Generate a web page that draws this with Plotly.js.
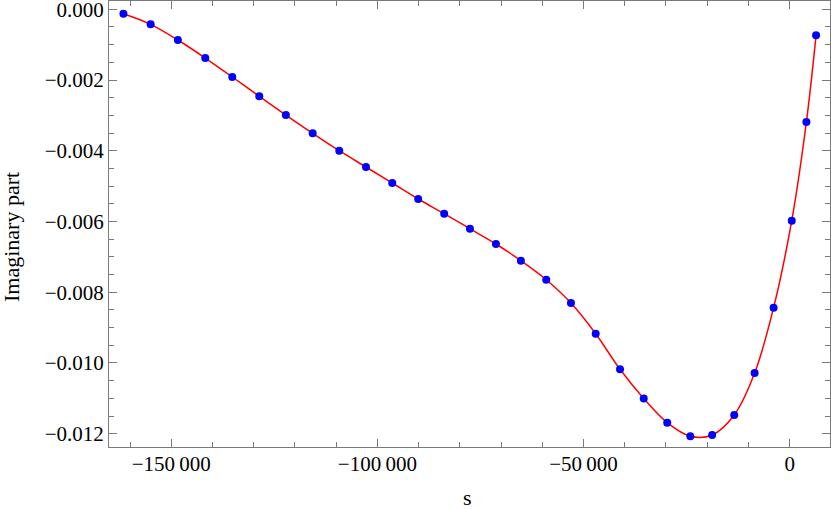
<!DOCTYPE html>
<html>
<head>
<meta charset="utf-8">
<script src="https://cdn.plot.ly/plotly-3.0.1.min.js"></script>
<style>
html,body{margin:0;padding:0;background:#fff;font-family:'Liberation Serif',serif;}
</style>
</head>
<body>
<div id="chart" style="width:831px;height:509px;"></div>
<script>
const sValues = [-161600, -155000, -148400, -141750, -135200, -128650, -122200, -115700, -109250, -102770,
  -96400, -90100, -83800, -77550, -71250, -65200, -59050, -53050, -47050, -41150,
  -35400, -29700, -24100, -18800, -13450, -8500, -3900, 500, 4050, 6400];
const imagValues = [-0.000124, -0.000424, -0.000868, -0.001377, -0.001914, -0.00246, -0.002989, -0.003506, -0.003998, -0.004459,
  -0.004911, -0.005364, -0.005779, -0.006204, -0.006636, -0.007108, -0.007646, -0.008304, -0.009172, -0.010179,
  -0.011005, -0.011689, -0.012073, -0.012037, -0.011471, -0.010284, -0.008437, -0.005977, -0.003187, -0.000735];
const xTickVals = [-150000, -100000, -50000, 0];
const xTickText = ["\u2212150\u2009000", "\u2212100\u2009000", "\u221250\u2009000", "0"];
const yTickVals = [0, -0.002, -0.004, -0.006, -0.008, -0.010, -0.012];
const yTickText = ["0.000", "\u22120.002", "\u22120.004", "\u22120.006", "\u22120.008", "\u22120.010", "\u22120.012"];

const SERIF = "Liberation Serif";
function mkFont(size) { return {family: SERIF, size: size, color: "#000000"}; }
const axisColor = "#7a7a7a";

const traces = [
  {x: sValues, y: imagValues, mode: "lines", line: {color: "#ff0000", width: 1.5, shape: "spline"}, hoverinfo: "skip"},
  {x: sValues, y: imagValues, mode: "markers", marker: {color: "#0000ff", size: 8}}
];
const layout = {
  width: 831, height: 509,
  margin: {l: 109, r: 1, t: 1, b: 62},
  paper_bgcolor: "#ffffff", plot_bgcolor: "#ffffff",
  showlegend: false,
  font: mkFont(21),
  xaxis: {
    range: [-165100, 9780],
    showgrid: false, zeroline: false,
    showline: true, linecolor: axisColor, linewidth: 1, mirror: "ticks",
    ticks: "inside", ticklen: 8, tickcolor: axisColor, tickwidth: 1,
    tickmode: "array", tickvals: xTickVals, ticktext: xTickText,
    tickfont: mkFont(21), ticklabeloverflow: "allow", ticklabelstandoff: -2,
    minor: {ticks: "inside", ticklen: 5, tickcolor: axisColor, tickmode: "linear", tick0: 0, dtick: 10000, showgrid: false}
  },
  yaxis: {
    range: [-0.012376, 0.000235],
    showgrid: false, zeroline: false,
    showline: true, linecolor: axisColor, linewidth: 1, mirror: "ticks",
    ticks: "inside", ticklen: 8, tickcolor: axisColor, tickwidth: 1,
    tickmode: "array", tickvals: yTickVals, ticktext: yTickText,
    tickfont: mkFont(21), ticklabeloverflow: "allow",
    minor: {ticks: "inside", ticklen: 5, tickcolor: axisColor, tickmode: "linear", tick0: 0, dtick: 0.0005, showgrid: false}
  },
  annotations: [
    {text: "Imaginary part", textangle: -90, xref: "paper", yref: "paper",
     x: -98/721, y: 210/446, xanchor: "center", yanchor: "middle", showarrow: false, font: mkFont(22)},
    {text: "s", xref: "paper", yref: "paper",
     x: 358/721, y: -50/446, xanchor: "center", yanchor: "middle", showarrow: false, font: mkFont(22)}
  ]
};

function forceFont() {
  const nodes = document.querySelectorAll("#chart text, #chart tspan");
  nodes.forEach(function (t) {
    const v = t.style.getPropertyValue("font-family");
    if (v.indexOf(SERIF) < 0 || t.style.getPropertyPriority("font-family") !== "important") {
      t.style.setProperty("font-family", "'" + SERIF + "', 'Times New Roman', serif", "important");
    }
    if (t.getAttribute("font-family") !== SERIF) t.setAttribute("font-family", SERIF);
  });
}

const gd = document.getElementById("chart");
Plotly.newPlot(gd, traces, layout, {displayModeBar: false, staticPlot: true}).then(function () {
  forceFont();
  gd.on && gd.on("plotly_afterplot", forceFont);
  const mo = new MutationObserver(function () { forceFont(); });
  mo.observe(gd, {subtree: true, childList: true, attributes: true, attributeFilter: ["style"]});
  [30, 150, 400, 1000].forEach(function (ms) { setTimeout(forceFont, ms); });
  if (document.fonts && document.fonts.ready) document.fonts.ready.then(forceFont);
});
</script>
</body>
</html>
